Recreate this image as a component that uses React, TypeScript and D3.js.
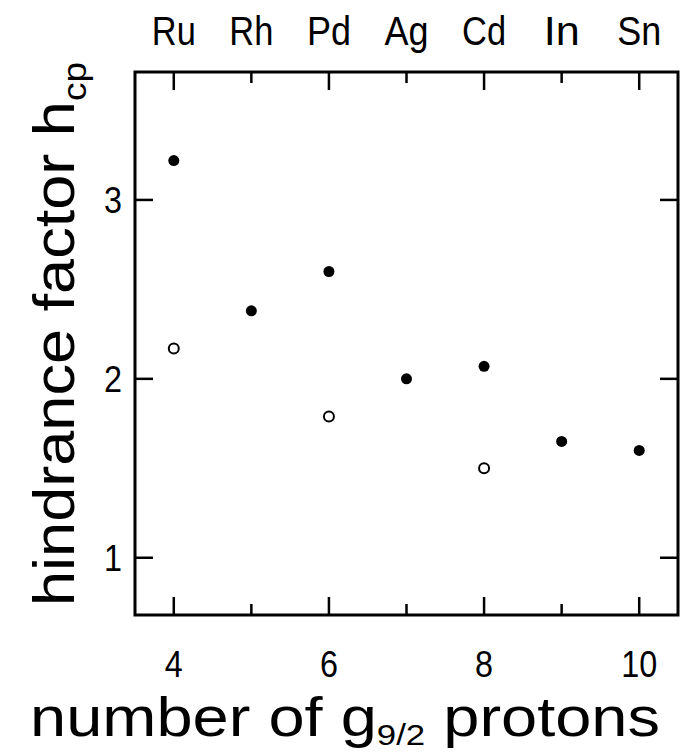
import React from "react";
import * as d3 from "d3";

const elements = ["Ru", "Rh", "Pd", "Ag", "Cd", "In", "Sn"];
const elementX = [4, 5, 6, 7, 8, 9, 10];
const filledX = [4, 5, 6, 7, 8, 9, 10];
const filledY = [3.22, 2.38, 2.6, 2.0, 2.07, 1.65, 1.6];
const openX = [4, 6, 8];
const openY = [2.17, 1.79, 1.5];
const xMajorTicks = [4, 6, 8, 10];
const xMinorTicks = [5, 7, 9];
const yTicks = [1, 2, 3];

const W = 687;
const H = 754;
const L = 135, R = 678, T = 72, B = 615;
const FONT = "'Liberation Sans', Arial, sans-serif";

export default function App() {
  const x = d3.scaleLinear().domain([3.5, 10.5]).range([L, R]);
  const y = d3.scaleLinear().domain([0.68, 3.715]).range([B, T]);
  const major = 18, minor = 11;
  return (
    <svg width={W} height={H} style={{ position: "absolute", left: 0, top: 0, background: "#fff" }}>
      <rect x={0} y={0} width={W} height={H} fill="#fff" />
      {elements.map((e, i) => (
        <text key={e} x={x(elementX[i])} y={45} fontFamily={FONT} fontSize={40}
          textAnchor="middle" textLength={e === "In" ? 36 : 44} lengthAdjust="spacingAndGlyphs" fill="#000">{e}</text>
      ))}
      <rect x={L} y={T} width={R - L} height={B - T} fill="none" stroke="#000" strokeWidth={3} />
      {xMajorTicks.map(v => (
        <g key={"xm" + v}>
          <line x1={x(v)} x2={x(v)} y1={B} y2={B - major} stroke="#000" strokeWidth={2.5} />
          <line x1={x(v)} x2={x(v)} y1={T} y2={T + major} stroke="#000" strokeWidth={2.5} />
          <text x={x(v)} y={677} fontFamily={FONT} fontSize={36} textAnchor="middle"
            textLength={v >= 10 ? 36 : 18} lengthAdjust="spacingAndGlyphs" fill="#000">{v}</text>
        </g>
      ))}
      {xMinorTicks.map(v => (
        <g key={"xn" + v}>
          <line x1={x(v)} x2={x(v)} y1={B} y2={B - minor} stroke="#000" strokeWidth={2.5} />
          <line x1={x(v)} x2={x(v)} y1={T} y2={T + minor} stroke="#000" strokeWidth={2.5} />
        </g>
      ))}
      {yTicks.map(v => (
        <g key={"y" + v}>
          <line x1={L} x2={L + major} y1={y(v)} y2={y(v)} stroke="#000" strokeWidth={2.5} />
          <line x1={R} x2={R - major} y1={y(v)} y2={y(v)} stroke="#000" strokeWidth={2.5} />
          <text x={122} y={y(v) + 13} fontFamily={FONT} fontSize={36} textAnchor="end"
            textLength={18} lengthAdjust="spacingAndGlyphs" fill="#000">{v}</text>
        </g>
      ))}
      {filledX.map((v, i) => (
        <circle key={"f" + i} cx={x(v)} cy={y(filledY[i])} r={5.5} fill="#000" />
      ))}
      {openX.map((v, i) => (
        <circle key={"o" + i} cx={x(v)} cy={y(openY[i])} r={5} fill="#fff" stroke="#000" strokeWidth={2} />
      ))}
      <text x={30} y={736} fontFamily={FONT} fontSize={56} fill="#000"
        textLength={630} lengthAdjust="spacingAndGlyphs">
        number of g<tspan fontSize={30} dy={9}>9/2</tspan><tspan dy={-9}> protons</tspan>
      </text>
      <text transform={`translate(74,606) rotate(-90)`} fontFamily={FONT} fontSize={58} fill="#000"
        textLength={544} lengthAdjust="spacingAndGlyphs">
        hindrance factor h<tspan fontSize={34} dy={12}>cp</tspan>
      </text>
    </svg>
  );
}
